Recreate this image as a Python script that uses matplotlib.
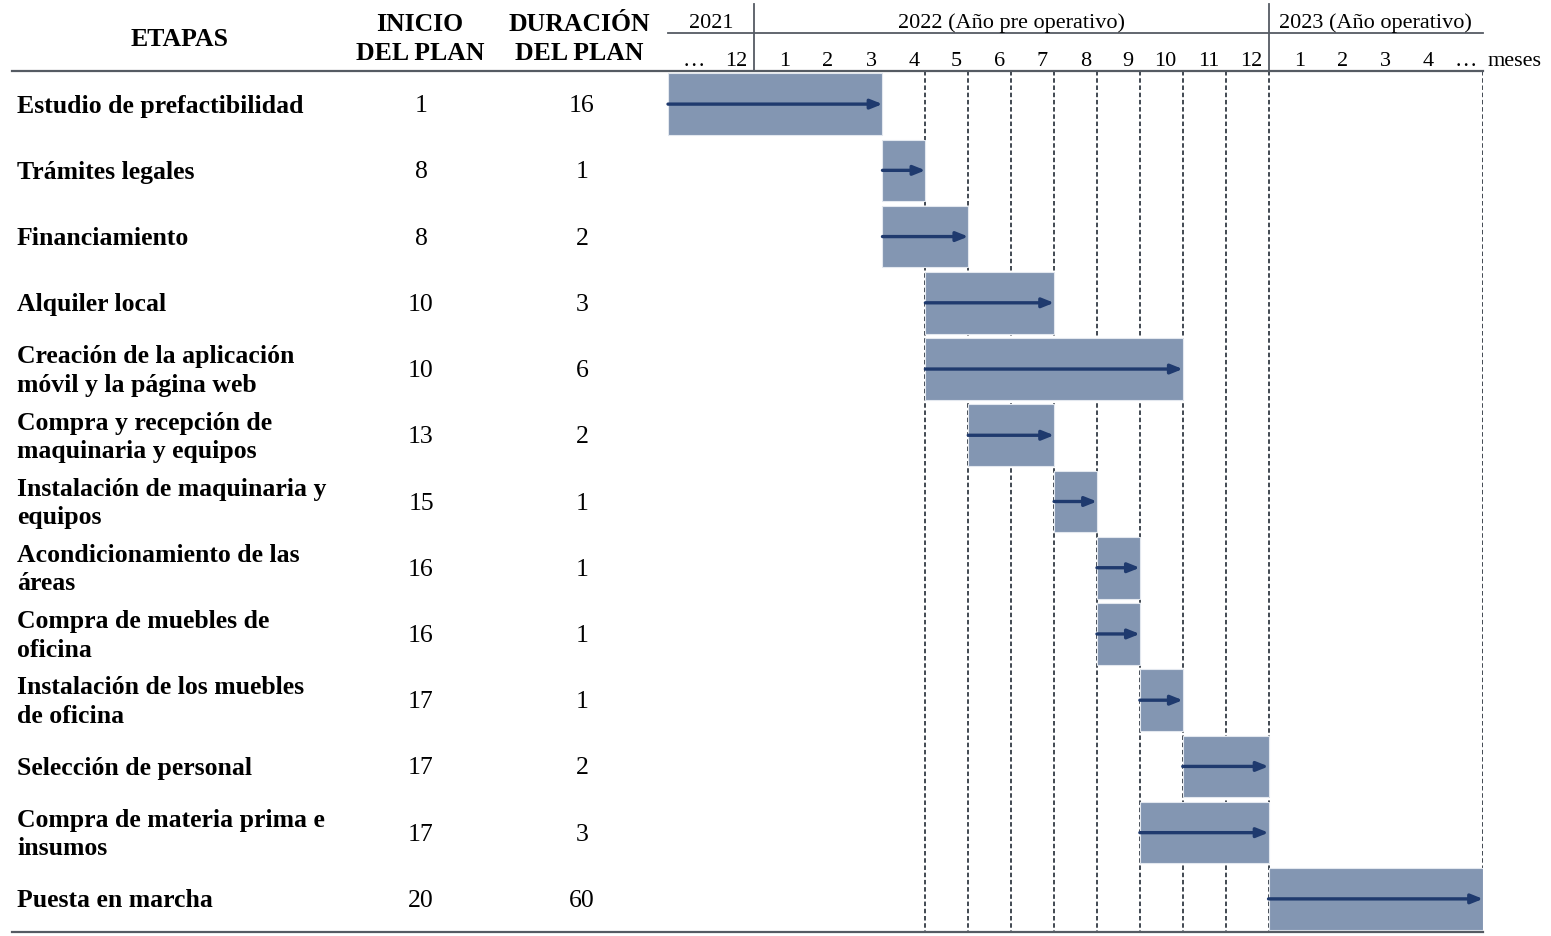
import matplotlib.pyplot as plt

# table data
etapas = ["Estudio de prefactibilidad", "Trámites legales", "Financiamiento",
          "Alquiler local", "Creación de la aplicación\nmóvil y la página web",
          "Compra y recepción de\nmaquinaria y equipos",
          "Instalación de maquinaria y\nequipos", "Acondicionamiento de las\náreas",
          "Compra de muebles de\noficina", "Instalación de los muebles\nde oficina",
          "Selección de personal", "Compra de materia prima e\ninsumos",
          "Puesta en marcha"]
inicio = [1, 8, 8, 10, 10, 13, 15, 16, 16, 17, 17, 17, 20]
duracion = [16, 1, 2, 3, 6, 2, 1, 1, 1, 1, 2, 3, 60]

# bar position on the month grid (column index, number of columns)
bar_start = [0, 5, 5, 6, 6, 7, 9, 10, 10, 11, 12, 11, 14]
bar_len = [5, 1, 2, 3, 6, 2, 1, 1, 1, 1, 2, 3, 5]

month_labels = ["…", "12", "1", "2", "3", "4", "5", "6", "7", "8", "9", "10",
                "11", "12", "1", "2", "3", "4", "…"]
years = ["2021", "2022 (Año pre operativo)", "2023 (Año operativo)"]
year_span = [(0, 2), (2, 14), (14, 19)]
dashed_cols = [6, 7, 8, 9, 10, 11, 12, 13, 14, 19]

serif = "Liberation Serif"
bar_color = "#8396b2"
arrow_color = "#1f3a6e"
line_color = "#555b63"

W, H = 1551, 937
fig = plt.figure(figsize=(W / 100, H / 100), dpi=100)
x0, x1 = 668, 1483
y0, y1 = 72, 933
ax = fig.add_axes([x0 / W, 1 - y1 / H, (x1 - x0) / W, (y1 - y0) / H])
ncol = len(month_labels)
nrow = len(etapas)
ax.set_xlim(0, ncol)
ax.set_ylim(nrow, 0)
ax.axis("off")

cw = (x1 - x0) / ncol        # px per column
rh = (y1 - y0) / nrow        # px per row


def px(x):
    return (x - x0) / cw


def py(y):
    return (y - y0) / rh


# dashed grid
for c in dashed_cols:
    ax.plot([c, c], [0, nrow], color="#333a44", lw=1.3, ls=(0, (2.5, 1.5)), zorder=1)

# bars + arrows
for i in range(nrow):
    ax.barh(i + 0.5, bar_len[i], left=bar_start[i], height=0.93, color=bar_color,
            edgecolor="#e3e8ef", lw=0.8, zorder=2)
    ax.annotate("", xy=(bar_start[i] + bar_len[i], i + 0.5), xytext=(bar_start[i], i + 0.5),
                arrowprops=dict(arrowstyle="-|>,head_length=0.7,head_width=0.28",
                                color=arrow_color, lw=2.4, shrinkA=0, shrinkB=0),
                zorder=3)

# table text
for i in range(nrow):
    ax.text(px(17), py(72 + rh * (i + 0.5) + 1), etapas[i], ha="left", va="center",
            family=serif, fontweight="bold", fontsize=18.5, linespacing=1.3, clip_on=False)
    ax.text(px(421), py(72 + rh * (i + 0.5) + 1), str(inicio[i]), ha="center", va="center",
            family=serif, fontsize=18.5, clip_on=False)
    ax.text(px(582), py(72 + rh * (i + 0.5) + 1), str(duracion[i]), ha="center", va="center",
            family=serif, fontsize=18.5, clip_on=False)

# header
ax.text(px(180), py(39), "ETAPAS", ha="center", va="center", family=serif,
        fontweight="bold", fontsize=18.5, clip_on=False)
ax.text(px(420), py(39), "INICIO\nDEL PLAN", ha="center", va="center", family=serif,
        fontweight="bold", fontsize=18.5, linespacing=1.3, clip_on=False)
ax.text(px(579), py(39), "DURACIÓN\nDEL PLAN", ha="center", va="center", family=serif,
        fontweight="bold", fontsize=18.5, linespacing=1.3, clip_on=False)

for name, (a, b) in zip(years, year_span):
    ax.text((a + b) / 2, py(23), name, ha="center", va="center", family=serif,
            fontsize=16, clip_on=False)
for c, lab in enumerate(month_labels):
    ax.text(c + 0.86, py(61), lab, ha="right", va="center", family=serif,
            fontsize=16, clip_on=False)
ax.text(px(1488), py(61), "meses", ha="left", va="center", family=serif,
        fontsize=16, clip_on=False)

# header rules
ax.plot([0, ncol], [py(34), py(34)], color=line_color, lw=1.3, clip_on=False)
for c in [2, 14]:
    ax.plot([c, c], [py(5), 0], color=line_color, lw=1.3, clip_on=False)
ax.plot([px(12), ncol], [0, 0], color=line_color, lw=1.6, clip_on=False)
ax.plot([px(12), ncol], [nrow, nrow], color=line_color, lw=1.6, clip_on=False)

fig.savefig("out.png", dpi=100)
